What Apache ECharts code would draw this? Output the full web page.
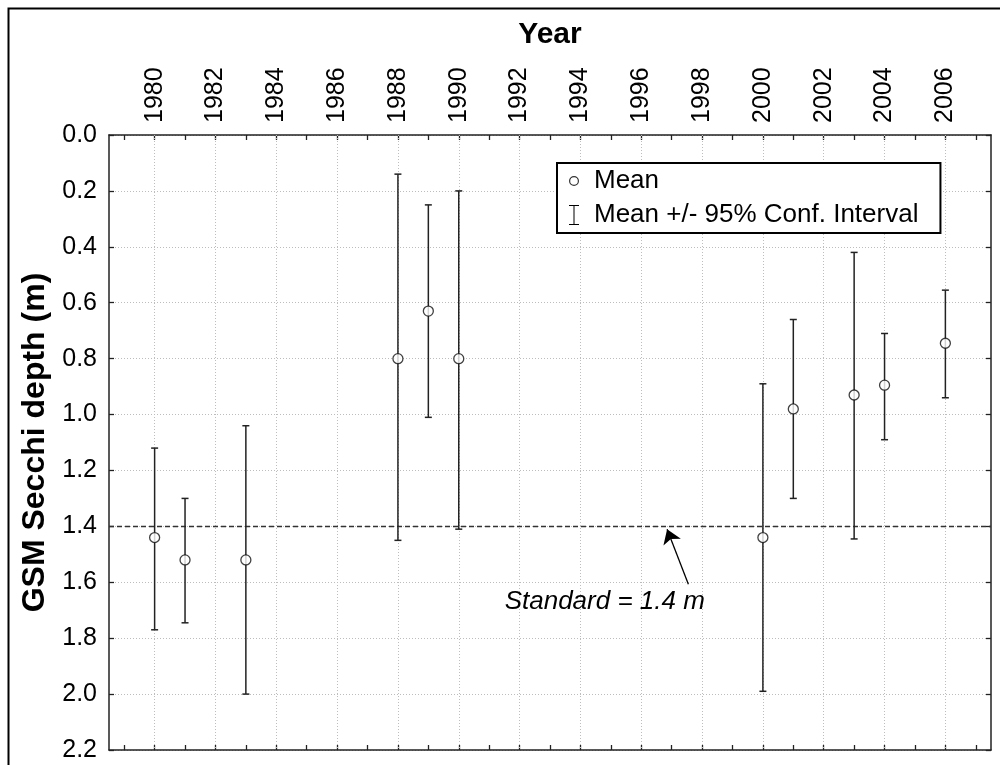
<!DOCTYPE html>
<html>
<head>
<meta charset="utf-8">
<script src="https://cdn.jsdelivr.net/npm/echarts@6/dist/echarts.min.js"></script>
<style>
html,body{margin:0;padding:0;background:#fff;}
#chart{width:1000px;height:765px;}
</style>
</head>
<body>
<div id="chart"></div>
<script>
// ---- data ----
var years   = [1980, 1981, 1983, 1988, 1989, 1990, 2000, 2001, 2003, 2004, 2006];
var means   = [1.44, 1.52, 1.52, 0.80, 0.63, 0.80, 1.44, 0.98, 0.93, 0.895, 0.745];
var ciLow   = [1.12, 1.30, 1.04, 0.14, 0.25, 0.20, 0.89, 0.66, 0.42, 0.71, 0.555];
var ciHigh  = [1.77, 1.745, 2.00, 1.45, 1.01, 1.41, 1.99, 1.30, 1.445, 1.09, 0.94];
var tickYears  = [1979,1980,1981,1982,1983,1984,1985,1986,1987,1988,1989,1990,1991,1992,1993,1994,1995,1996,1997,1998,1999,2000,2001,2002,2003,2004,2005,2006,2007];
var labelYears = [1980,1982,1984,1986,1988,1990,1992,1994,1996,1998,2000,2002,2004,2006];
var standardValue = 1.4;
var standardText = 'Standard = 1.4 m';
var standardTextAt = [1994.8, 1.668];
var arrowFrom = [1997.55, 1.607];
var arrowTo = [1996.85, 1.41];
var xTitle = 'Year';
var yTitle = 'GSM Secchi depth (m)';
var legendMean = 'Mean';
var legendCI = 'Mean +/- 95% Conf. Interval';

var FONT = '"Liberation Sans", Arial, sans-serif';
var AX = '#222';
var GRID = '#bdbdbd';

var meanData = years.map(function (y, i) { return [y, means[i]]; });
var ciData = years.map(function (y, i) { return [y, ciLow[i], ciHigh[i]]; });

var chart = echarts.init(document.getElementById('chart'), null, {renderer: 'canvas'});

function baseX(extra) {
  var o = {
    type: 'value', min: 1978.5, max: 2007.5,
    axisLine: {show: true, onZero: false, lineStyle: {color: AX, width: 1.5}},
    axisTick: {show: true, inside: true, length: 5, customValues: tickYears, lineStyle: {color: AX, width: 1.3}},
    axisLabel: {show: false},
    splitLine: {show: false}
  };
  for (var k in extra) o[k] = extra[k];
  return o;
}

var option = {
  animation: false,
  backgroundColor: '#fff',
  textStyle: {fontFamily: FONT},
  grid: {left: 109, right: 9, top: 135, bottom: 15, containLabel: false},
  graphic: [{
    type: 'rect', left: 6, top: 6, silent: true,
    shape: {x: 0, y: 0, width: 1100, height: 900},
    style: {fill: 'none', stroke: '#000', lineWidth: 2}
  }],
  legend: {
    orient: 'vertical', left: 557, top: 163,
    padding: [5, 22, 5, 12], itemGap: 8,
    backgroundColor: '#fff', borderColor: '#000', borderWidth: 2, borderRadius: 0,
    itemWidth: 10, itemHeight: 20, symbolKeepAspect: true,
    textStyle: {fontFamily: FONT, fontSize: 26, color: '#000', padding: [0, 0, 0, 10]},
    data: [
      {name: legendMean, icon: 'path://M5,0A5,5,0,1,1,4.99,0ZM5,1.2A3.8,3.8,0,1,0,5.01,1.2Z', itemStyle: {color: '#000', borderWidth: 0}},
      {name: legendCI, icon: 'path://M0,0L10,0L10,1L5.5,1L5.5,19L10,19L10,20L0,20L0,19L4.5,19L4.5,1L0,1Z', itemStyle: {color: '#000', borderWidth: 0}}
    ]
  },
  xAxis: [
    baseX({position: 'bottom'}),
    baseX({
      position: 'top',
      name: xTitle, nameLocation: 'middle', nameGap: 85,
      nameTextStyle: {fontFamily: FONT, fontSize: 30, fontWeight: 'bold', color: '#000'},
      axisLabel: {show: true, rotate: -90, margin: 12, customValues: labelYears, fontFamily: FONT, fontSize: 25, color: '#000',
                  formatter: function (v) { return String(v); }}
    })
  ],
  yAxis: [
    {
      type: 'value', min: 0, max: 2.2, interval: 0.2, inverse: true, position: 'left',
      name: yTitle, nameLocation: 'middle', nameGap: 54, nameRotate: 90,
      nameTextStyle: {fontFamily: FONT, fontSize: 32, fontWeight: 'bold', color: '#000'},
      axisLine: {show: true, lineStyle: {color: AX, width: 1.5}},
      axisTick: {show: true, inside: true, length: 5, lineStyle: {color: AX, width: 1.3}},
      axisLabel: {margin: 12, fontFamily: FONT, fontSize: 25, color: '#000', formatter: function (v) { return v.toFixed(1); }},
      splitLine: {show: true, lineStyle: {color: GRID, width: 1, type: [1, 2]}}
    },
    {
      type: 'value', min: 0, max: 2.2, interval: 0.2, inverse: true, position: 'right',
      axisLine: {show: true, lineStyle: {color: AX, width: 1.5}},
      axisTick: {show: true, inside: true, length: 5, lineStyle: {color: AX, width: 1.3}},
      axisLabel: {show: false},
      splitLine: {show: false}
    }
  ],
  series: [
    {
      name: 'grid', type: 'line', data: [], silent: true, z: 1,
      markLine: {
        silent: true, symbol: 'none', animation: false, z: 1,
        label: {show: false},
        lineStyle: {color: GRID, width: 1, type: [1, 2]},
        data: labelYears.map(function (y) { return {xAxis: y}; })
      }
    },
    {
      name: 'standard', type: 'line', data: [], silent: true, z: 3,
      markLine: {
        silent: true, animation: false, z: 3, symbol: 'none',
        label: {show: false},
        lineStyle: {color: '#333', width: 1.3, type: [5, 3]},
        data: [{yAxis: standardValue}]
      },
      markPoint: {
        silent: true, animation: false,
        symbol: 'circle', symbolSize: 0,
        label: {show: true, position: 'inside', formatter: standardText, fontFamily: FONT, fontSize: 26, fontStyle: 'italic', color: '#000'},
        data: [{coord: standardTextAt}]
      }
    },
    {
      name: 'arrow', type: 'line', data: [], silent: true, z: 3,
      markLine: {
        silent: true, animation: false, z: 3,
        symbol: ['none', 'arrow'], symbolSize: 14,
        label: {show: false},
        lineStyle: {color: '#000', width: 1.3, type: 'solid'},
        itemStyle: {color: '#000'},
        data: [[{coord: arrowFrom}, {coord: arrowTo}]]
      }
    },
    {
      name: legendCI, type: 'custom', z: 4,
      data: ciData,
      encode: {x: 0, y: [1, 2]},
      renderItem: function (params, api) {
        var x = api.value(0);
        var p1 = api.coord([x, api.value(1)]);
        var p2 = api.coord([x, api.value(2)]);
        var hw = 3.5;
        var st = {stroke: '#222', lineWidth: 1.5};
        return {
          type: 'group',
          children: [
            {type: 'line', shape: {x1: p1[0], y1: p1[1], x2: p2[0], y2: p2[1]}, style: st},
            {type: 'line', shape: {x1: p1[0] - hw, y1: p1[1], x2: p1[0] + hw, y2: p1[1]}, style: st},
            {type: 'line', shape: {x1: p2[0] - hw, y1: p2[1], x2: p2[0] + hw, y2: p2[1]}, style: st}
          ]
        };
      }
    },
    {
      name: legendMean, type: 'scatter', z: 5,
      data: meanData,
      symbol: 'circle', symbolSize: 10,
      itemStyle: {color: '#fff', borderColor: '#111', borderWidth: 1.3}
    }
  ]
};
chart.setOption(option);
</script>
</body>
</html>
